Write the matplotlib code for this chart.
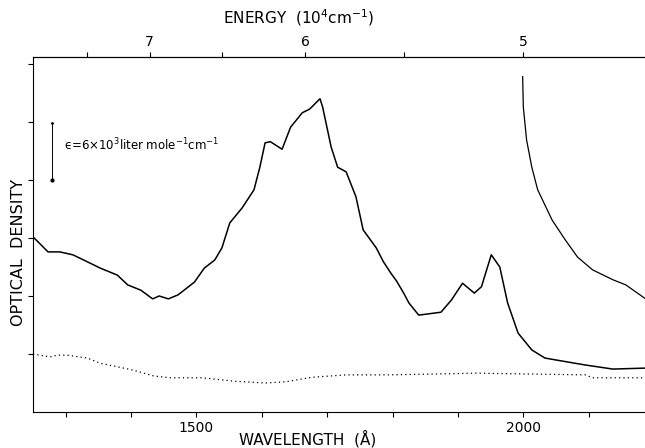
import numpy as np
import matplotlib
matplotlib.use('Agg')
import matplotlib.pyplot as plt
from matplotlib.ticker import FixedLocator, NullFormatter

# main absorption curve (wavelength in A, optical density in arbitrary units)
wl_main = [1250, 1273, 1291, 1311, 1333, 1353, 1379, 1395, 1415, 1433, 1443, 1457,
           1472, 1497, 1512, 1528, 1539, 1551, 1570, 1588, 1597, 1605, 1613, 1631,
           1644, 1662, 1673, 1689, 1693, 1706, 1716, 1729, 1744, 1755, 1775, 1786,
           1797, 1806, 1817, 1825, 1840, 1874, 1890, 1907, 1925, 1936, 1951, 1964,
           1976, 1992, 2013, 2033, 2069, 2095, 2137, 2196]
od_main = [3.02, 2.76, 2.76, 2.71, 2.59, 2.48, 2.36, 2.19, 2.10, 1.95, 2.00, 1.95,
           2.02, 2.24, 2.48, 2.62, 2.83, 3.26, 3.52, 3.83, 4.22, 4.64, 4.66, 4.53,
           4.91, 5.16, 5.22, 5.40, 5.26, 4.57, 4.22, 4.14, 3.71, 3.14, 2.83, 2.59,
           2.40, 2.26, 2.05, 1.88, 1.67, 1.72, 1.93, 2.22, 2.05, 2.16, 2.71, 2.50,
           1.88, 1.36, 1.07, 0.93, 0.86, 0.81, 0.74, 0.76]

# second curve on the long-wavelength side
wl_tail = [1999, 2000, 2005, 2013, 2022, 2044, 2064, 2083, 2106, 2137, 2157, 2172, 2196]
od_tail = [5.78, 5.26, 4.69, 4.22, 3.83, 3.31, 2.97, 2.67, 2.45, 2.28, 2.19, 2.07, 1.88]

# baseline (dotted)
wl_base = [1250, 1276, 1287, 1302, 1333, 1353, 1379, 1404, 1435, 1461, 1508, 1559,
           1605, 1636, 1678, 1729, 1791, 1890, 1925, 2095, 2106, 2196]
od_base = [1.00, 0.95, 0.98, 0.98, 0.93, 0.84, 0.78, 0.72, 0.62, 0.59, 0.59, 0.53,
           0.50, 0.52, 0.60, 0.64, 0.64, 0.66, 0.67, 0.64, 0.59, 0.59]

plt.rcParams['font.family'] = ['DejaVu Sans']

fig = plt.figure(figsize=(6.45, 4.48), dpi=100)
ax = fig.add_axes([33/645, 36/448, 1 - 33/645 + 0.01, 355/448])

ax.plot(wl_main, od_main, color='black', lw=1.1)
ax.plot(wl_tail, od_tail, color='black', lw=0.9)
ax.plot(wl_base, od_base, color='black', lw=0.9, ls=(0, (1, 2.5)))

# scale bar for epsilon
ax.plot([1279, 1279], [4.0, 4.98], color='black', lw=0.7)
ax.plot([1279], [4.0], 'o', color='black', ms=2)
ax.plot([1279], [4.98], 'o', color='black', ms=1)
ax.text(1297, 4.6, '\u03f5=6\u00d710$^3$liter mole$^{-1}$cm$^{-1}$', fontsize=8.5,
        va='center', ha='left')

ax.set_xlim(1250, 2196)
ax.set_ylim(0, 6.12)
ax.spines['right'].set_visible(False)

ax.xaxis.set_major_locator(FixedLocator([1500, 2000]))
ax.xaxis.set_minor_locator(FixedLocator([1300, 1400, 1600, 1700, 1800, 1900, 2100]))
ax.yaxis.set_major_locator(FixedLocator([1, 2, 3, 4, 5, 6]))
ax.yaxis.set_major_formatter(NullFormatter())
ax.tick_params(which='both', direction='out', length=3.5, width=0.8, labelsize=10)
ax.tick_params(axis='x', pad=3)
ax.tick_params(top=False, right=False)

def wl2e(x):
    x = np.asarray(x, dtype=float)
    with np.errstate(divide='ignore'):
        return 1e4 / x

sec = ax.secondary_xaxis('top', functions=(wl2e, wl2e))
sec.xaxis.set_major_locator(FixedLocator([5, 6, 7]))
sec.xaxis.set_minor_locator(FixedLocator([4.5, 5.5, 6.5, 7.5]))
sec.tick_params(which='both', direction='out', length=3.5, width=0.8, labelsize=10, pad=2)
sec.spines['top'].set_linewidth(0.8)

for s in ['left', 'bottom', 'top']:
    ax.spines[s].set_linewidth(0.8)

fig.text(299/645, 1 - 18/448, 'ENERGY  (10$^4$cm$^{-1}$)', ha='center', va='center',
         fontsize=11)
fig.text(308/645, 1 - 439/448, 'WAVELENGTH  (\u00c5)', ha='center', va='center',
         fontsize=11)
fig.text(19/645, 1 - 252/448, 'OPTICAL  DENSITY', ha='center', va='center',
         rotation=90, fontsize=11.5)

fig.savefig('out.png', dpi=100)
